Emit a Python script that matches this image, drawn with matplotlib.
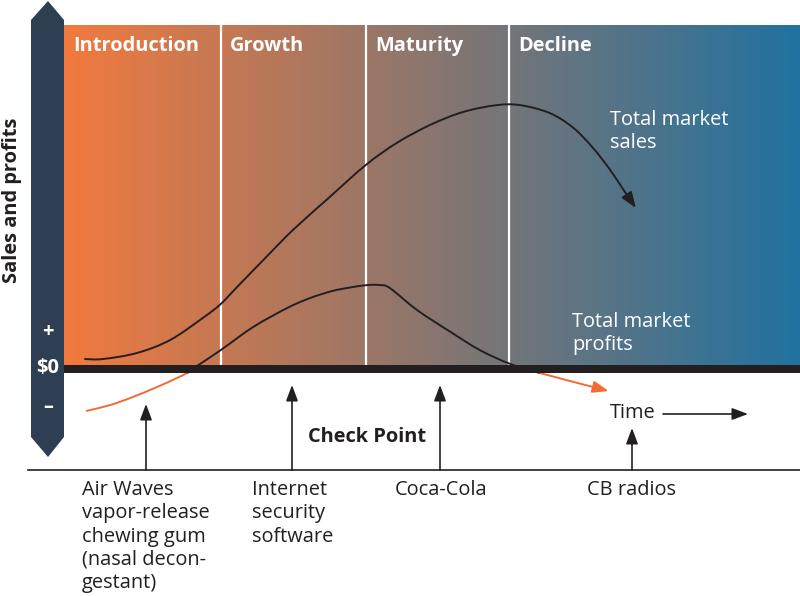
import numpy as np
import matplotlib
matplotlib.use("Agg")
import matplotlib.pyplot as plt
from matplotlib.patches import Polygon, FancyArrowPatch, PathPatch
from matplotlib.path import Path
from matplotlib.transforms import Affine2D

plt.rcParams['font.family'] = ['Open Sans', 'DejaVu Sans']

# ---------------- data (time 0-100, value: 0 = $0 line, 100 = top) ----------------
phases = ["Introduction", "Growth", "Maturity", "Decline"]
phase_starts = [0, 21.3, 41.0, 60.5]

sales_time = [2.85, 5.3, 9.9, 14.4, 18.9, 21.3, 23.5, 28, 31.1, 36.1, 41.0, 45.2, 49.7, 54.2,
              58.8, 62, 66, 69.2, 71.9, 74.2, 75.95, 77.7]
sales_value = [2.9, 2.9, 4.65, 8.4, 14.9, 18.9, 23.8, 33.7, 40.4, 50.0, 59.3, 65.7, 70.9, 74.7,
               76.7, 76.7, 74.4, 70.1, 64.2, 57.9, 52.3, 46.8]

profit_time = [3, 6.25, 9.4, 13, 16.7, 18.3, 21.3, 25.7, 30.3, 33.4, 36.5, 38.9, 41.2, 42.9, 44.3, 48, 52.5, 56.5, 60.6, 64.7, 74]
profit_value = [-12.2, -10.5, -8.1, -4.9, -1.2, 1.2, 5.5, 12.2, 17.7, 20.6, 22.7, 23.7, 24.4, 24.4, 23.5, 17.1, 10.8, 5.5, 1.5, -1.2, -6.4]

examples = [["Air Waves", "vapor-release", "chewing gum", "(nasal decon-", "gestant)"],
            ["Internet", "security", "software"], ["Coca-Cola"], ["CB radios"]]

# ---------------- figure ----------------
W, H = 800, 596
fig = plt.figure(figsize=(W / 100, H / 100), dpi=100)
ax = fig.add_axes([0, 0, 1, 1])
XS, YS = 7.36, 3.44          # px per data unit
X0, Y0 = 64, 369             # pixel of data origin
ax.set_xlim(-X0 / XS, (W - X0) / XS)
ax.set_ylim(-(H - Y0) / YS, Y0 / YS)
ax.axis('off')
PX = Affine2D().scale(1 / W, -1 / H).translate(0, 1) + fig.transFigure

dark = '#231F20'
orange = '#F26B32'
FS = 14.4
LH = 23.3  # line height in px
head = '-|>,head_length=0.8,head_width=0.3'


def smooth_segments(x, y):
    P = np.column_stack([x, y]).astype(float)
    n = len(P)
    segs = []
    for i in range(n - 1):
        p0, p1, p2, p3 = P[max(i - 1, 0)], P[i], P[i + 1], P[min(i + 2, n - 1)]
        segs.append((p1, p1 + (p2 - p0) / 6, p2 - (p3 - p1) / 6, p2))
    return segs


def seg_path(segs, a, b):
    verts = [segs[a][0]]
    codes = [Path.MOVETO]
    for s in segs[a:b]:
        verts += [s[1], s[2], s[3]]
        codes += [Path.CURVE4] * 3
    return Path(verts, codes)


# gradient background
c_left = np.array([242, 122, 62]) / 255
c_right = np.array([33, 114, 160]) / 255
f = np.linspace(0, 1, 512)[:, None]
grad = (c_left * (1 - f) + c_right * f)[None, :, :]
ax.imshow(grad, extent=[0, 100, 0, 100], aspect='auto', zorder=1, interpolation='bilinear')

# phase separators and labels
for name, s in zip(phases, phase_starts):
    if s > 0:
        ax.plot([s, s], [0, 100], color='white', lw=1.6, zorder=2)
    ax.text(s + 1.25, (Y0 - 51) / YS, name, color='white', fontsize=FS,
            fontweight='bold', va='baseline', ha='left', zorder=5)

# sales curve
ss = smooth_segments(sales_time, sales_value)
ax.add_patch(FancyArrowPatch(path=seg_path(ss, 0, len(ss)), arrowstyle=head, color=dark,
                             lw=1.4, mutation_scale=12, zorder=3))

# profit curve: black above $0, orange below
pv = np.array(profit_value)
pos = np.where(pv >= 0)[0]
i0, i1 = pos[0] - 1, pos[-1] + 1
ps = smooth_segments(profit_time, profit_value)
ax.add_patch(PathPatch(seg_path(ps, i0, i1), facecolor='none', edgecolor=dark, lw=1.4, zorder=3))
ax.add_patch(PathPatch(seg_path(ps, 0, i0), facecolor='none', edgecolor=orange, lw=1.4, zorder=3))
ax.add_patch(FancyArrowPatch(path=seg_path(ps, i1, len(ps)), arrowstyle=head, color=orange,
                             lw=1.4, mutation_scale=12, zorder=3))

# $0 bar
ax.fill_between([0, 100], -1.16, 1.16, color=dark, zorder=4, lw=0)


def lines_text(x, y, lines, **kw):
    for i, ln in enumerate(lines):
        ax.text(x, y + i * LH, ln, transform=PX, fontsize=FS, va='baseline', ha='left', **kw)


# curve labels
lines_text(610, 125, ["Total market", "sales"], color='white', zorder=5)
lines_text(572, 327, ["Total market", "profits"], color='white', zorder=5)

# left vertical arrow
arrow_pts = [(31, 20), (48, 1), (64, 20), (64, 437), (48, 457), (31, 437)]
ax.add_patch(Polygon(arrow_pts, closed=True, transform=PX, facecolor='#2E3F53', edgecolor='none', zorder=5))
for lab, y in [("+", 332), ("$0", 368), ("\u2013", 407)]:
    ax.text(48, y, lab, transform=PX, color='white', fontsize=FS, fontweight='bold',
            ha='center', va='center', zorder=6)
ax.text(12, 200, "Sales and profits", transform=PX, rotation=90, color=dark, fontsize=FS,
        fontweight='bold', ha='center', va='center')

# check point section
ax.plot([28, 800], [470, 470], transform=PX, color=dark, lw=1.2)
ex_x = [146, 292, 440, 632]
ex_tip = [404, 385, 385, 428]
for x, tip in zip(ex_x, ex_tip):
    ax.annotate('', xy=(x, tip), xytext=(x, 470), xycoords=PX, textcoords=PX,
                arrowprops=dict(arrowstyle=head, color=dark, lw=1.2,
                                mutation_scale=12, shrinkA=0, shrinkB=0))
ax.text(308, 442, "Check Point", transform=PX, color=dark, fontsize=FS, fontweight='bold',
        ha='left', va='baseline')
ax.text(610, 418, "Time", transform=PX, color=dark, fontsize=FS, ha='left', va='baseline')
ax.annotate('', xy=(748, 414), xytext=(663, 414), xycoords=PX, textcoords=PX,
            arrowprops=dict(arrowstyle=head, color=dark, lw=1.2,
                            mutation_scale=12, shrinkA=0, shrinkB=0))

lab_x = [82, 252, 395, 587]
for x, t in zip(lab_x, examples):
    lines_text(x, 495, t, color=dark)

fig.savefig("out.png", dpi=100)
